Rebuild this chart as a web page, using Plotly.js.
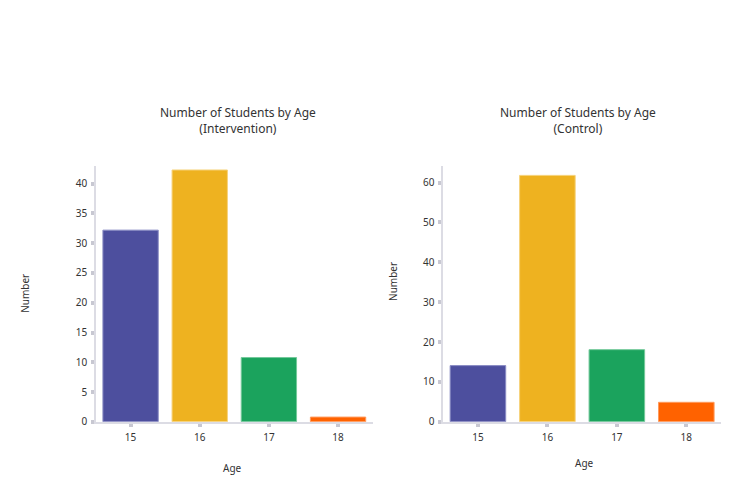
<!DOCTYPE html>
<html>
<head>
<meta charset="utf-8">
<script src="https://cdn.plot.ly/plotly-3.0.1.min.js"></script>
<style>
  html, body { margin: 0; padding: 0; background: #ffffff; }
  #chart { width: 735px; height: 504px; }
</style>
</head>
<body>
<div id="chart"></div>
<script>
// Age groups and student counts
const ages = ['15', '16', '17', '18'];
const interventionCounts = [32.2, 42.3, 10.8, 0.8];
const controlCounts = [14.1, 61.8, 18.1, 4.9];
const barColors = ['#4d4f9e', '#eeb220', '#1ba35d', '#ff6200'];
const borderColors = ['#8a8cc4', '#f6d27a', '#74c99a', '#ff9a5c'];

const interventionTicks = [0, 5, 10, 15, 20, 25, 30, 35, 40];
const controlTicks = [0, 10, 20, 30, 40, 50, 60];

const FONT = 'Noto Sans, sans-serif';
const TEXT = '#333333';
const AXIS = '#dcdce4';
const TICK = '#c8c8d2';

function barTrace(values, xa, ya) {
  return {
    type: 'bar',
    x: ages,
    y: values,
    xaxis: xa,
    yaxis: ya,
    marker: {
      color: barColors,
      line: { color: borderColors, width: 1 }
    },
    hoverinfo: 'x+y',
    showlegend: false
  };
}

const traces = [
  barTrace(interventionCounts, 'x', 'y'),
  barTrace(controlCounts, 'x2', 'y2')
];

// shared axis look: light line, small grey tick marks
function baseAxis() {
  return {
    showline: true,
    linecolor: AXIS,
    linewidth: 1.5,
    showgrid: false,
    zeroline: false,
    ticks: 'outside',
    ticklen: 3,
    tickwidth: 4,
    tickcolor: TICK,
    ticklabelstandoff: 2,
    tickfont: { family: FONT, size: 10, color: TEXT },
    fixedrange: true
  };
}

function xAxis(domain, anchor) {
  return Object.assign(baseAxis(), {
    domain: domain,
    anchor: anchor,
    type: 'category',
    range: [-0.5, 3.5]
  });
}

function yAxis(domain, anchor, range, ticks) {
  return Object.assign(baseAxis(), {
    domain: domain,
    anchor: anchor,
    range: range,
    tickmode: 'array',
    tickvals: ticks
  });
}

function label(text, x, y, size, angle) {
  return {
    text: text,
    xref: 'paper',
    yref: 'paper',
    x: x,
    y: y,
    xanchor: 'center',
    yanchor: 'middle',
    showarrow: false,
    textangle: angle || 0,
    font: { family: FONT, size: size, color: TEXT }
  };
}

const layout = {
  width: 735,
  height: 504,
  margin: { l: 0, r: 0, t: 0, b: 0 },
  paper_bgcolor: '#ffffff',
  plot_bgcolor: '#ffffff',
  font: { family: FONT, size: 10, color: TEXT },
  bargap: 0.2,
  xaxis: xAxis([0.1306, 0.507], 'y'),
  yaxis: yAxis([0.163, 0.671], 'x', [0, 43], interventionTicks),
  xaxis2: xAxis([0.603, 0.981], 'y2'),
  yaxis2: yAxis([0.163, 0.671], 'x2', [0, 64.2], controlTicks),
  annotations: [
    label('Number of Students by Age<br>(Intervention)', 0.324, 0.76, 12),
    label('Number of Students by Age<br>(Control)', 0.786, 0.76, 12),
    label('Number', 0.034, 0.419, 10, -90),
    label('Number', 0.535, 0.441, 10, -90),
    label('Age', 0.317, 0.0714, 10),
    label('Age', 0.795, 0.081, 10)
  ]
};

Plotly.newPlot('chart', traces, layout, { displayModeBar: false, responsive: false });
</script>
</body>
</html>
